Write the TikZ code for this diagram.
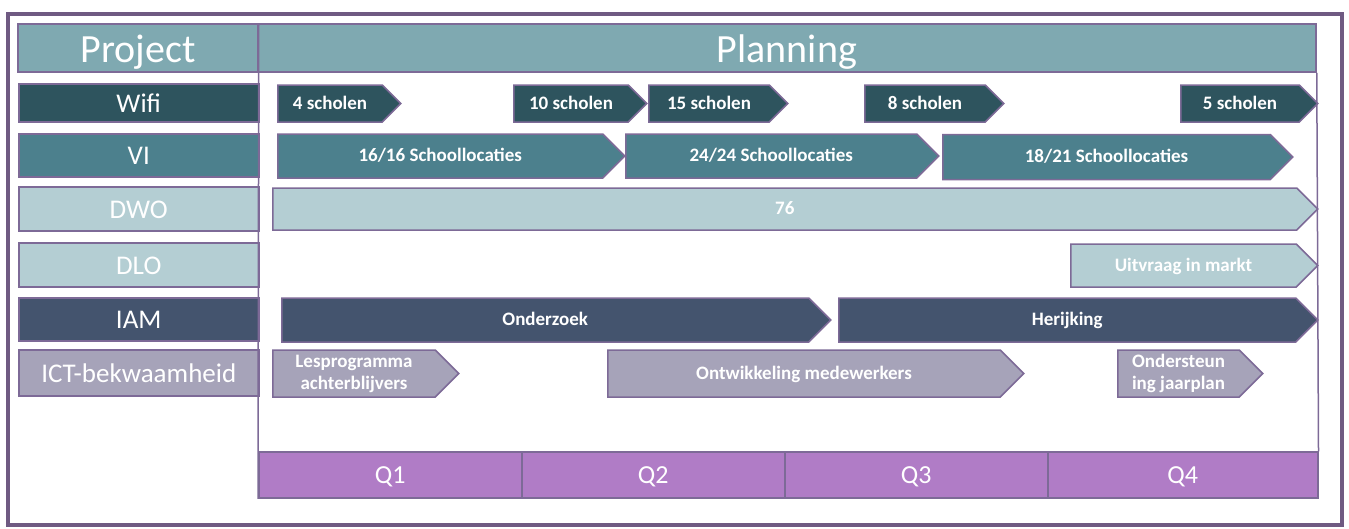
\documentclass[tikz,border=0pt]{standalone}
\usepackage{fontspec}
\setmainfont{Carlito}
\usetikzlibrary{shapes.symbols}
\definecolor{hdr}{HTML}{7FA9B1}
\definecolor{wific}{HTML}{2E545E}
\definecolor{vic}{HTML}{4C808D}
\definecolor{dwoc}{HTML}{B4CED3}
\definecolor{iamc}{HTML}{44546E}
\definecolor{ictc}{HTML}{A6A3B9}
\definecolor{qc}{HTML}{B07CC6}
\definecolor{boxline}{HTML}{7D6A97}
\definecolor{framec}{HTML}{6F5A82}
\tikzset{
    every node/.style={inner sep=0pt, text=white, draw=boxline, line width=1.5pt}
}
\tikzset{
    lbl/.style={rectangle, minimum width=240pt, anchor=west, text height=18pt, text depth=0pt, font=\fontsize{27}{30}\selectfont},
    bar/.style={signal, signal to=east, signal pointer angle=90, anchor=west, align=center, font=\fontsize{19}{22}\selectfont\bfseries},
    oneline/.style={text height=12pt, text depth=1pt},
    qtr/.style={rectangle, fill=qc, minimum width=263pt, minimum height=46pt, anchor=west, text height=18pt, text depth=1pt, font=\fontsize{26}{30}\selectfont}
}

\begin{document}
\begin{tikzpicture}[x=1pt, y=-1pt]
        \useasboundingbox (0,0) rectangle (1349,528);
        \draw [framec, line width=4pt] (8,14) rectangle (1342,525);
        % header
        \node (project) [rectangle, fill=hdr, minimum width=240pt, minimum height=48pt, text height=28pt, text depth=0pt, font=\fontsize{40}{44}\selectfont] at (138,48) {Project};
        \node (planning) [rectangle, fill=hdr, minimum width=1058pt, minimum height=48pt, text height=28pt, text depth=0pt, font=\fontsize{40}{44}\selectfont] at (787,48) {Planning};
        % project labels
        \node (lwifi) [lbl, fill=wific, minimum height=38pt] at (18,103) {Wifi};
        \node (lvi) [lbl, fill=vic, minimum height=43pt] at (18,155.5) {VI};
        \node (ldwo) [lbl, fill=dwoc, minimum height=44pt] at (18,209) {DWO};
        \node (ldlo) [lbl, fill=dwoc, minimum height=44pt] at (18,265) {DLO};
        \node (liam) [lbl, fill=iamc, minimum height=43pt] at (18,319.5) {IAM};
        \node (lict) [lbl, fill=ictc, minimum height=46pt] at (18,373) {ICT-bekwaamheid};
        % quarters
        \node (q1) [qtr] at (258,475) {Q1};
        \node (q2) [qtr] at (521,475) {Q2};
        \node (q3) [qtr] at (784,475) {Q3};
        \node (q4) [qtr, minimum width=270pt] at (1047,475) {Q4};
        \draw [boxline, line width=1.5pt] (project.north east) -- (q1.south west);
        \draw [boxline, line width=1.5pt] (planning.south east) -- (q4.north east);
        % Wifi
        \node (w1) [bar, oneline, fill=wific, minimum width=123pt, minimum height=37pt] at (277,103.5) {4 scholen};
        \node (w2) [bar, oneline, fill=wific, minimum width=133pt, minimum height=37pt] at (513,103.5) {10 scholen};
        \node (w3) [bar, oneline, fill=wific, minimum width=139pt, minimum height=37pt] at (648,103.5) {15 scholen};
        \node (w4) [bar, oneline, fill=wific, minimum width=139pt, minimum height=37pt] at (864,103.5) {8 scholen};
        \node (w5) [bar, oneline, fill=wific, minimum width=137pt, minimum height=37pt] at (1180,103.5) {5 scholen};
        % VI
        \node (v1) [bar, oneline, fill=vic, minimum width=347pt, minimum height=44pt] at (277,156) {16/16 Schoollocaties};
        \node (v2) [bar, oneline, fill=vic, minimum width=313pt, minimum height=44pt] at (625,156) {24/24 Schoollocaties};
        \node (v3) [bar, oneline, fill=vic, minimum width=350pt, minimum height=45pt] at (942,157) {18/21 Schoollocaties};
        % DWO, DLO
        \node (d1) [bar, oneline, fill=dwoc, minimum width=1045pt, minimum height=42pt] at (272,209) {76};
        \node (d2) [bar, oneline, fill=dwoc, minimum width=247pt, minimum height=43pt] at (1070,265.5) {Uitvraag in markt};
        % IAM
        \node (i1) [bar, oneline, fill=iamc, minimum width=549pt, minimum height=44pt] at (281,320) {Onderzoek};
        \node (i2) [bar, oneline, fill=iamc, minimum width=479pt, minimum height=44pt] at (838,320) {Herijking};
        % ICT
        \node (c1) [bar, fill=ictc, minimum width=186pt, minimum height=47pt] at (272,373.5) {Lesprogramma\\achterblijvers};
        \node (c2) [bar, oneline, fill=ictc, minimum width=416pt, minimum height=47pt] at (607,373.5) {Ontwikkeling medewerkers};
        \node (c3) [bar, fill=ictc, minimum width=145pt, minimum height=47pt] at (1117,373.5) {Ondersteun\\ing jaarplan};
\end{tikzpicture}
\end{document}
